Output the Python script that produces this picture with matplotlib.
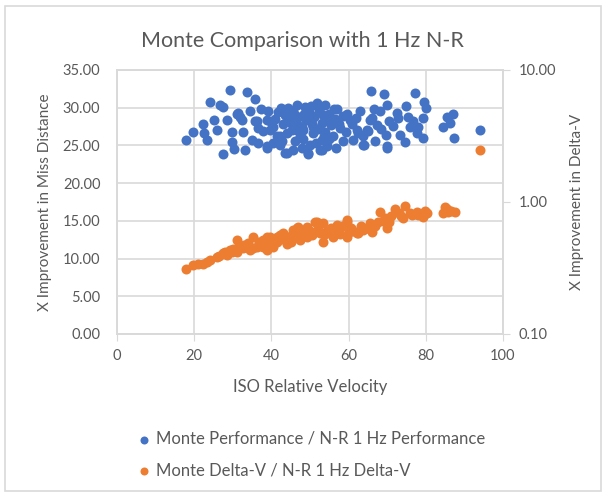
import numpy as np
import matplotlib.pyplot as plt
from matplotlib.patches import Rectangle
from matplotlib.ticker import FormatStrFormatter, FixedLocator, NullLocator

plt.rcParams['font.family'] = ['Lato', 'DejaVu Sans']

title = 'Monte Comparison with 1 Hz N-R'
perf_label = 'Monte Performance / N-R 1 Hz Performance'
dv_label = 'Monte Delta-V / N-R 1 Hz Delta-V'

# Monte performance / N-R performance (left axis)
perf_x = [17.9, 19.6, 22.2, 22.6, 23.2, 24.1, 25.0, 26.0, 26.7, 27.5, 27.5, 29.3, 28.4, 29.7,
          29.7, 30.3, 31.4, 32.3, 32.7, 33.2, 33.8, 35.8, 34.9, 36.2, 36.6, 38.8, 38.8, 39.6,
          41.4, 42.5, 43.5, 44.4, 46.6, 46.6, 48.7, 51.9, 31.0, 31.9, 35.8, 43.5, 50.0, 53.4,
          37.9, 40.5, 42.2, 45.3, 46.6, 48.3, 50.9, 53.0, 38.8, 44.0, 45.7, 49.6, 52.6, 42.2,
          40.5, 65.8, 69.2, 77.2, 70.0, 74.9, 79.5, 80.1, 72.5, 68.1, 63.0, 59.5, 56.3, 75.3,
          79.4, 76.8, 78.1, 70.5, 73.3, 79.4, 69.7, 70.0, 64.1, 85.4, 87.1, 84.5, 86.3, 87.4,
          94.0, 49.6, 53.0, 61.2, 60.4, 66.0, 67.3, 64.7, 57.8, 56.0, 62.5, 52.6, 51.7, 54.3,
          60.8, 65.5, 62.1, 63.8, 77.6, 54.3, 63.8, 69.9, 41.0, 43.0, 44.5, 45.5, 47.0, 47.5,
          48.0, 49.0, 49.5, 50.5, 51.0, 51.5, 52.0, 53.0, 54.0, 55.0, 55.5, 56.5, 57.0, 58.5,
          39.0, 41.8, 44.0, 46.0, 47.8, 50.0, 52.3, 54.8, 36.5, 34.5, 37.2, 39.8, 42.8, 45.0,
          48.5, 53.8, 50.3, 46.2, 44.2, 58.5, 61.8, 59.2, 56.8, 66.5, 68.5, 71.5, 72.8, 75.8,
          74.5, 66.8, 65.0, 48.2, 50.8, 53.5, 55.8, 57.5]
perf_y = [25.7, 26.8, 27.9, 26.6, 25.7, 30.8, 28.4, 27.1, 30.4, 30.1, 23.9, 32.4, 28.4, 26.8,
          25.5, 24.5, 29.3, 28.4, 26.8, 24.4, 32.1, 31.1, 25.7, 28.2, 25.3, 24.6, 28.4, 27.0,
          26.2, 30.0, 24.0, 29.2, 30.4, 27.0, 30.1, 30.4, 29.2, 28.8, 28.2, 29.0, 29.2, 29.0,
          26.9, 27.5, 26.2, 27.0, 27.9, 25.9, 26.6, 25.7, 24.9, 24.0, 24.4, 24.0, 24.4, 25.1,
          25.3, 32.2, 31.8, 31.9, 30.4, 30.2, 30.7, 29.9, 29.3, 29.5, 29.6, 29.2, 29.8, 28.8,
          28.6, 28.2, 27.5, 28.2, 26.4, 26.0, 26.4, 24.7, 25.1, 28.8, 29.2, 27.5, 28.0, 26.0,
          27.0, 23.9, 24.4, 25.7, 28.4, 28.6, 27.7, 27.0, 27.3, 26.2, 26.6, 30.1, 30.6, 28.4,
          27.9, 28.4, 27.0, 26.2, 26.6, 24.9, 25.1, 24.9, 28.5, 27.8, 28.3, 29.5, 28.8, 26.3,
          27.5, 28.4, 29.9, 27.8, 28.8, 25.3, 27.2, 28.0, 26.8, 29.2, 27.7, 28.5, 29.8, 28.9,
          29.6, 29.4, 26.6, 25.6, 24.6, 25.0, 29.5, 25.8, 27.3, 29.5, 29.8, 28.1, 25.6, 28.0,
          29.2, 30.3, 30.2, 29.0, 30.0, 25.6, 28.6, 26.8, 24.6, 29.8, 27.2, 27.6, 28.6, 27.4,
          25.4, 25.6, 26.9, 27.1, 27.4, 26.3, 28.1, 27.8]

# Monte delta-V / N-R delta-V (right log axis)
dv_x = [17.9, 19.8, 22.4, 23.2, 24.1, 25.8, 27.5, 29.3, 31.0, 31.0, 32.7, 35.3, 34.5, 36.2,
        37.9, 38.8, 39.6, 41.4, 42.2, 44.0, 45.3, 46.6, 47.8, 49.1, 51.7, 53.4, 56.0, 59.5,
        59.5, 62.5, 65.5, 66.0, 68.1, 69.9, 69.4, 72.0, 74.6, 74.2, 75.9, 77.6, 79.4, 79.8,
        85.0, 85.8, 87.6, 84.5, 94.0, 28.4, 29.7, 31.4, 33.6, 35.3, 37.0, 38.8, 38.8, 37.9,
        41.4, 43.1, 45.7, 47.0, 49.1, 51.3, 53.4, 56.9, 59.5, 62.1, 64.7, 44.0, 47.4, 52.6,
        56.0, 40.5, 21.0, 26.5, 28.0, 30.0, 33.0, 34.0, 36.8, 40.0, 42.8, 43.5, 46.0, 48.2,
        50.0, 50.5, 52.0, 54.5, 55.5, 57.5, 58.2, 60.5, 61.2, 63.2, 63.8, 65.0, 66.8, 67.5,
        68.8, 70.5, 71.0, 73.0, 73.5, 76.5, 78.0, 80.2, 85.4, 86.5, 45.0, 48.8, 54.0, 57.8,
        60.0]
dv_y = [0.309, 0.333, 0.337, 0.353, 0.364, 0.385, 0.408, 0.433, 0.515, 0.420, 0.446, 0.545,
        0.433, 0.458, 0.515, 0.433, 0.545, 0.500, 0.562, 0.515, 0.562, 0.632, 0.595, 0.545,
        0.710, 0.500, 0.562, 0.710, 0.545, 0.579, 0.690, 0.595, 0.845, 0.632, 0.753, 0.881,
        0.933, 0.753, 0.820, 0.845, 0.774, 0.860, 0.920, 0.845, 0.845, 0.820, 2.48, 0.397,
        0.420, 0.446, 0.458, 0.446, 0.480, 0.545, 0.458, 0.458, 0.545, 0.579, 0.613, 0.650,
        0.650, 0.710, 0.690, 0.670, 0.730, 0.579, 0.632, 0.480, 0.515, 0.579, 0.545, 0.458,
        0.340, 0.390, 0.420, 0.440, 0.470, 0.490, 0.500, 0.510, 0.520, 0.550, 0.540, 0.580,
        0.600, 0.560, 0.620, 0.600, 0.640, 0.600, 0.660, 0.630, 0.600, 0.660, 0.610, 0.640,
        0.660, 0.700, 0.720, 0.700, 0.780, 0.820, 0.780, 0.800, 0.800, 0.830, 0.880, 0.860,
        0.500, 0.560, 0.570, 0.570, 0.590]

blue = '#4472C4'
orange = '#ED7D31'
grey_text = '#595959'
grid_c = '#D9D9D9'

fig = plt.figure(figsize=(6.05, 4.94), dpi=100)
fig.patches.append(Rectangle((0.008, 0.006), 0.985, 0.982, transform=fig.transFigure,
                             fill=False, edgecolor=grid_c, linewidth=1.2))

ax = fig.add_axes([0.1934, 0.3239, 0.638, 0.5344])
ax2 = ax.twinx()

ax.scatter(perf_x, perf_y, s=52, color=blue, linewidths=0, zorder=3, label=perf_label)
ax2.scatter(dv_x, dv_y, s=52, color=orange, linewidths=0, zorder=3, label=dv_label)

ax.set_xlim(0, 100)
ax.set_ylim(0, 35)
ax.set_xticks(np.arange(0, 101, 20))
ax.set_yticks(np.arange(0, 35.1, 5))
ax.yaxis.set_major_formatter(FormatStrFormatter('%.2f'))

ax2.set_yscale('log')
ax2.set_ylim(0.1, 10)
ax2.yaxis.set_major_locator(FixedLocator([0.1, 1, 10]))
ax2.yaxis.set_minor_locator(NullLocator())
ax2.yaxis.set_major_formatter(FormatStrFormatter('%.2f'))

ax.grid(True, color=grid_c, linewidth=1.2, zorder=0)
ax.set_axisbelow(True)
for a in (ax, ax2):
    for s in a.spines.values():
        s.set_color(grid_c)
        s.set_linewidth(1.2)
ax.tick_params(axis='y', length=0, labelsize=10.5, labelcolor=grey_text, pad=12)
ax.tick_params(axis='x', length=5, color=grid_c, labelsize=10.5, labelcolor=grey_text, pad=6)
ax2.tick_params(axis='y', length=5, color=grid_c, labelsize=10.5, labelcolor=grey_text, pad=6)

ax.set_xlabel('ISO Relative Velocity', fontsize=12, color=grey_text, labelpad=11)
ax.set_ylabel('X Improvement in Miss Distance', fontsize=11, color=grey_text, labelpad=8)
ax2.set_ylabel('X Improvement in Delta-V', fontsize=11, color=grey_text, labelpad=10)

fig.text(0.5, 0.918, title, ha='center', va='center', fontsize=15.5, color=grey_text)

h1, l1 = ax.get_legend_handles_labels()
h2, l2 = ax2.get_legend_handles_labels()
fig.legend(h1 + h2, l1 + l2, loc='upper center', bbox_to_anchor=(0.514, 0.158), frameon=False,
           fontsize=12, labelcolor=grey_text, handlelength=0.8, handletextpad=0.3,
           labelspacing=0.95, markerscale=0.8)

fig.savefig('out.png', dpi=100)
